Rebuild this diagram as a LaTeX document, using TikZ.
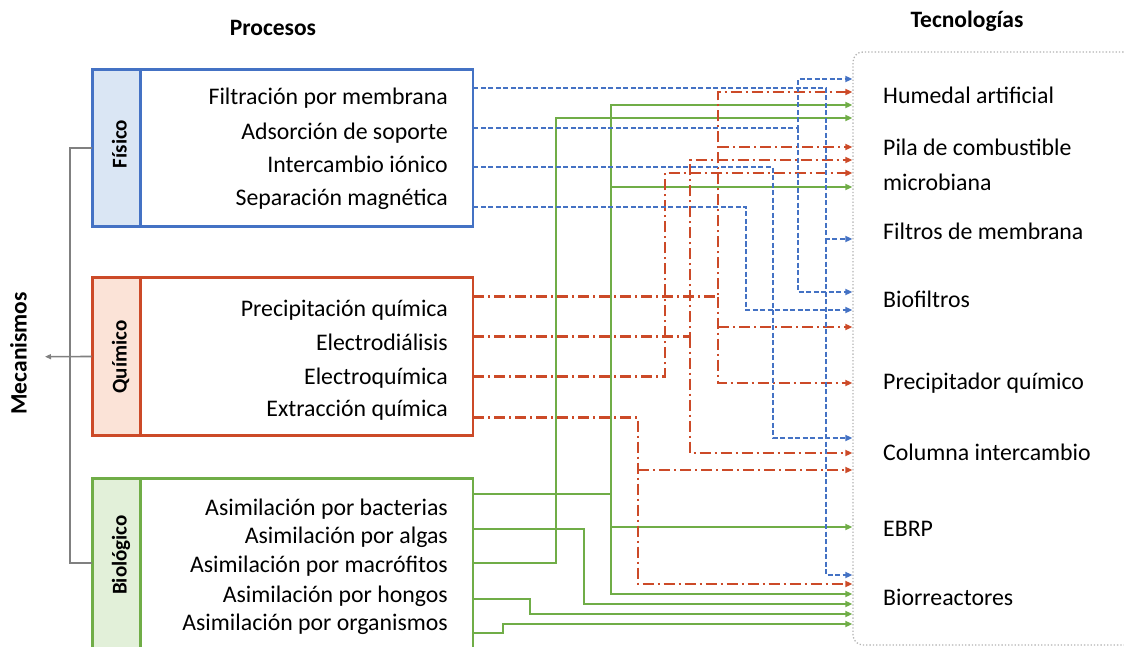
\documentclass[tikz,border=0pt]{standalone}
\usepackage{fontspec}
\setmainfont{Carlito}
\usetikzlibrary{arrows.meta}
\definecolor{cblue}{HTML}{4472C4}
\definecolor{cred}{HTML}{CC4A28}
\definecolor{cgreen}{HTML}{70AD47}
\definecolor{fblue}{HTML}{DAE6F4}
\definecolor{fred}{HTML}{FBE3D7}
\definecolor{fgreen}{HTML}{E2F0D9}
\definecolor{cgray}{HTML}{808080}
\begin{document}
\begin{tikzpicture}[x=1pt,y=-1pt,
  txt/.style={inner sep=0pt,font=\fontsize{23.8}{28}\selectfont},
  ttl/.style={inner sep=0pt,font=\fontsize{23.5}{28}\selectfont\bfseries},
  lab/.style={inner sep=0pt,rotate=90,anchor=base,font=\fontsize{21}{25}\selectfont\bfseries},
  pbox/.style={draw=#1,line width=2.8pt,minimum width=380pt,inner sep=0pt},
  strip/.style={draw=#1,line width=2.8pt,minimum width=48pt,inner sep=0pt},
  tip/.style={-{Triangle[length=7pt,width=6pt]}},
  bl/.style={draw=cblue,line width=2pt,dash pattern=on 5pt off 2.5pt},
  rd/.style={draw=cred,line width=2.5pt,dash pattern=on 11pt off 4pt on 2pt off 4pt},
  gr/.style={draw=cgreen,line width=2pt},
  conn/.style={draw=cgray,line width=1.6pt}]
\clip (0,0) rectangle (1124,647);
% titles
\node[ttl,anchor=base] (tp) at (273,36) {Procesos};
\node[ttl,anchor=base] (tt) at (967,28) {Tecnologías};
% technology box
\node[draw=gray!60,dotted,line width=1.3pt,rounded corners=10pt,minimum width=330pt,minimum height=593pt,inner sep=0pt] (tec) at (1018,348.5) {};
% process boxes
\node[pbox=cblue,minimum height=157.4pt] (fis) at (283,148) {};
\node[pbox=cred,minimum height=158.4pt] (qui) at (283,356.5) {};
\node[pbox=cgreen,minimum height=220pt] (bio) at (283,588.3) {};
\node[strip=cblue,fill=fblue,minimum height=157.4pt] (sf) at (116.7,148) {};
\node[strip=cred,fill=fred,minimum height=158.4pt] (sq) at (116.7,356.5) {};
\node[strip=cgreen,fill=fgreen,minimum height=220pt] (sb) at (116.7,588.3) {};
\node[lab] (lf) at (126.5,144) {Físico};
\node[lab] (lq) at (126.5,357) {Químico};
\node[lab] (lb) at (126.5,555) {Biológico};
\node[inner sep=0pt,rotate=90,anchor=base,font=\fontsize{23.5}{28}\selectfont\bfseries] (mec) at (26.5,353.3) {Mecanismos};
% process texts
\node[txt,anchor=base east] (p1) at (448,105) {Filtración por membrana};
\node[txt,anchor=base east] (p2) at (448,139.3) {Adsorción de soporte};
\node[txt,anchor=base east] (p3) at (448,172.7) {Intercambio iónico};
\node[txt,anchor=base east] (p4) at (448,206) {Separación magnética};
\node[txt,anchor=base east] (q1) at (448,316) {Precipitación química};
\node[txt,anchor=base east] (q2) at (448,350) {Electrodiálisis};
\node[txt,anchor=base east] (q3) at (448,384) {Electroquímica};
\node[txt,anchor=base east] (q4) at (448,416.7) {Extracción química};
\node[txt,anchor=base east] (b1) at (448,515) {Asimilación por bacterias};
\node[txt,anchor=base east] (b2) at (448,543.3) {Asimilación por algas};
\node[txt,anchor=base east] (b3) at (448,572.7) {Asimilación por macrófitos};
\node[txt,anchor=base east] (b4) at (448,602.7) {Asimilación por hongos};
\node[txt,anchor=base east] (b5) at (448,630.7) {Asimilación por organismos};
% technology texts
\node[txt,anchor=base west] (t1) at (883,103.3) {Humedal artificial};
\node[txt,anchor=base west] (t2) at (883,156) {Pila de combustible};
\node[txt,anchor=base west] (t2b) at (883,190.7) {microbiana};
\node[txt,anchor=base west] (t3) at (883,239) {Filtros de membrana};
\node[txt,anchor=base west] (t4) at (883,307.3) {Biofiltros};
\node[txt,anchor=base west] (t5) at (883,389.3) {Precipitador químico};
\node[txt,anchor=base west] (t6) at (883,460) {Columna intercambio};
\node[txt,anchor=base west] (t7) at (883,536.7) {EBRP};
\node[txt,anchor=base west] (t8) at (883,605.7) {Biorreactores};
% mechanism connector
\coordinate (m1) at (70,148);
\coordinate (m2) at (70,563);
\coordinate (ma) at (45,356.7);
\draw[conn] (fis.west) -- (m1) -- (m2) -- (m2 -| bio.west);
\draw[conn,-{Triangle[length=6pt,width=5pt]}] (qui.west) -- (ma);
% start points on the box edges
\coordinate (sf1) at (473.3,88);
\coordinate (sf2) at (473.3,127.7);
\coordinate (sf3) at (473.3,167.3);
\coordinate (sf4) at (473.3,206.7);
\coordinate (sq1) at (473.3,296.7);
\coordinate (sq2) at (473.3,336.7);
\coordinate (sq3) at (473.3,376.7);
\coordinate (sq4) at (473.3,417.3);
\coordinate (sb1) at (473.3,494);
\coordinate (sb2) at (473.3,529);
\coordinate (sb3) at (473.3,563);
\coordinate (sb4) at (473.3,599);
\coordinate (sb5) at (473.3,633);
% green connectors
\draw[gr,tip] (sb1) -- (611,494) -- (611,105) -- (tec.west |- 0,105);
\draw[gr,tip] (611,187) -- (tec.west |- 0,187);
\draw[gr,tip] (611,494) -- (611,594) -- (tec.west |- 0,594);
\draw[gr,tip] (611,527) -- (tec.west |- 0,527);
\draw[gr,tip] (sb2) -- (584,529) -- (584,604) -- (tec.west |- 0,604);
\draw[gr,tip] (sb3) -- (556,563) -- (556,118) -- (tec.west |- 0,118);
\draw[gr,tip] (sb4) -- (530,599) -- (530,614) -- (tec.west |- 0,614);
\draw[gr,tip] (sb5) -- (503,633) -- (503,624) -- (tec.west |- 0,624);
% red connectors
\draw[rd,tip] (sq1) -- (718,296.7) -- (718,92) -- (tec.west |- 0,92);
\draw[rd,tip] (718,147) -- (tec.west |- 0,147);
\draw[rd,tip] (718,296.7) -- (718,383) -- (tec.west |- 0,383);
\draw[rd,tip] (718,327) -- (tec.west |- 0,327);
\draw[rd,tip] (sq2) -- (690,336.7) -- (690,160) -- (tec.west |- 0,160);
\draw[rd,tip] (690,336.7) -- (690,453) -- (tec.west |- 0,453);
\draw[rd,tip] (sq3) -- (665,376.7) -- (665,173) -- (tec.west |- 0,173);
\draw[rd,tip] (sq4) -- (638,417.3) -- (638,584) -- (tec.west |- 0,584);
\draw[rd,tip] (638,470) -- (tec.west |- 0,470);
% blue connectors
\draw[bl,tip] (sf1) -- (826,88) -- (826,239) -- (tec.west |- 0,239);
\draw[bl,tip] (826,239) -- (826,575) -- (tec.west |- 0,575);
\draw[bl,tip] (sf2) -- (798,127.7) -- (798,79) -- (tec.west |- 0,79);
\draw[bl,tip] (798,127.7) -- (798,292) -- (tec.west |- 0,292);
\draw[bl,tip] (sf3) -- (773,167.3) -- (773,438) -- (tec.west |- 0,438);
\draw[bl,tip] (sf4) -- (746,206.7) -- (746,310) -- (tec.west |- 0,310);
\end{tikzpicture}
\end{document}
